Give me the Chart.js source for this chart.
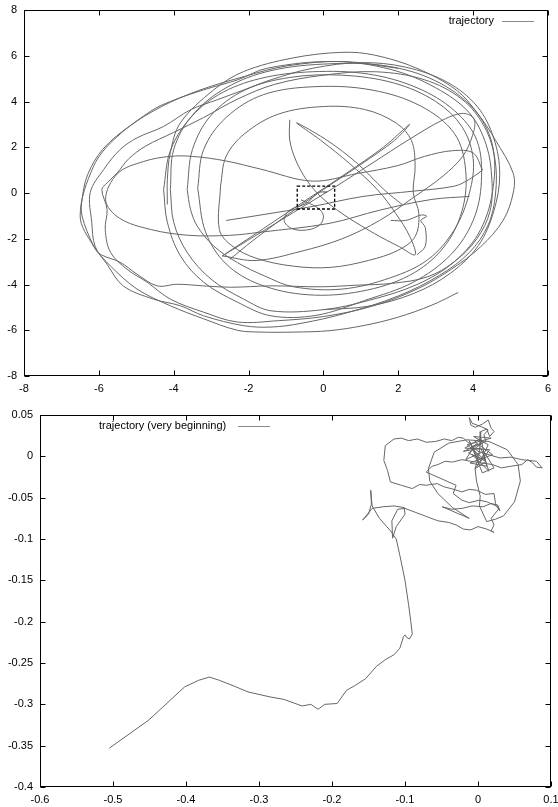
<!DOCTYPE html>
<html>
<head>
<meta charset="utf-8">
<script src="https://cdn.jsdelivr.net/npm/chart.js@4/dist/chart.umd.min.js"></script>
<style>
  body { margin: 0; background: #fff; }
  #topChart { position: absolute; left: 0; top: 0; }
  #bottomChart { position: absolute; left: 0; top: 400px; }
</style>
</head>
<body>
<canvas id="topChart" width="558" height="400"></canvas>
<canvas id="bottomChart" width="558" height="407"></canvas>
<script>
// ---- top panel: whole trajectory, pieces as [x, y]
const startLoop = [[0,0],[0.1,0.05],[-0.15,0.0],[-0.45,-0.45],[-0.9,-0.75],[-1.05,-1.2],[-0.85,-1.55],[-0.45,-1.62],[-0.1,-1.4],[0.0,-1.0],[-0.15,-0.65],[-0.6,-0.3]]
const spindleAE = [[-0.9,3.2],[-0.9,2.32],[-0.74,1.44],[-0.45,0.57],[-0.07,-0.16],[0.5,-0.9],[1.36,-1.77],[2.03,-2.35],[2.45,-2.7],[2.31,-1.91],[1.93,-0.89],[1.45,0.13],[0.69,1.3],[-0.07,2.3],[-0.72,3.07],[0.1,2.3],[0.9,1.3],[1.65,0.1],[2.1,-0.5]]
const spindleC = [[-2.7,-2.75],[-1.6,-1.55],[-0.5,-0.35],[0.6,0.85],[1.6,2.0],[2.3,3.0],[1.9,2.3],[1.0,1.25],[0.0,0.15],[-1.0,-1.0],[-1.9,-2.1],[-2.5,-2.9]]
const tiltedLoop = [[-2.7,-2.75],[-1.8,-1.85],[-0.8,-0.85],[0.3,0.25],[1.3,1.3],[2.3,2.35],[3.2,3.2],[3.75,3.48],[4.03,3.2],[3.98,2.5],[3.72,1.6],[3.2,0.75],[2.4,-0.2],[1.5,-1.2],[0.5,-2.0],[-0.6,-2.55],[-1.8,-2.95],[-2.7,-2.75]]
const thinLoop = [[4.25,1.0],[4.0,1.75],[3.45,1.85],[2.7,1.6],[1.99,1.2],[0.9,0.85],[-0.3,0.52],[-1.67,1.04],[-2.6,1.4],[-3.5,1.6],[-4.1,1.6],[-4.8,1.38],[-5.5,0.85],[-5.82,-0.3],[-5.45,-1.1],[-4.6,-1.6],[-3.6,-1.85],[-2.5,-1.85],[-1.67,-1.71],[0.15,-1.33],[1.53,-0.74],[2.9,-0.28],[3.9,-0.15]]
const thinReturn = [[4.25,1.0],[3.9,0.6],[3.5,0.3],[2.4,0.08],[1.06,-0.15],[-0.3,-0.59],[-1.67,-0.96],[-2.6,-1.2]]
const hook = [[1.8,-1.2],[2.2,-1.2],[2.62,-0.96],[2.76,-1.02],[2.6,-1.2],[2.72,-1.5],[2.72,-2.33],[2.5,-2.7]]
const innerLoop = [[-2.75,0.3],[-2.6,1.6],[-2.1,2.6],[-1.2,3.45],[0,3.78],[1.1,3.65],[1.95,3.05],[2.35,2.3],[2.45,1.2],[2.4,0.0],[2.55,-0.9],[2.45,-1.9],[2.0,-2.5],[1.2,-2.95],[0.2,-3.25],[-0.8,-3.2],[-1.8,-2.85],[-2.45,-2.3],[-2.78,-1.6],[-2.75,0.3]]
const ring1 = [[-4.27,0.15],[-4.1,1.8],[-3.6,3.2],[-2.8,4.3],[-1.7,5.0],[-0.3,5.3],[1.2,5.2],[2.5,4.6],[3.5,3.6],[4.1,2.3],[4.22,0.5],[4.0,-1.2],[3.4,-2.7],[2.4,-3.9],[1.1,-4.7],[-0.2,-5.35],[-1.4,-5.37],[-2.3,-4.77],[-3.2,-3.9],[-3.82,-2.75],[-4.17,-1.28],[-4.27,0.15]]
const ring2 = [[-4.09,0.15],[-4.0,1.9],[-3.5,3.4],[-2.6,4.6],[-1.4,5.35],[0.2,5.65],[1.7,5.55],[3.0,4.9],[4.0,3.7],[4.5,2.2],[4.54,0.3],[4.2,-1.6],[3.5,-3.0],[2.5,-4.0],[1.2,-4.7],[0,-5.1],[-1.4,-5.15],[-2.13,-4.64],[-3.0,-3.77],[-3.64,-2.6],[-4.0,-1.28],[-4.09,0.15]]
const ring3 = [[-3.64,0.15],[-3.5,1.9],[-3.0,3.4],[-2.1,4.5],[-0.9,5.05],[0.5,5.15],[1.9,4.8],[3.0,4.0],[3.7,2.9],[4.0,1.5],[3.9,0],[3.5,-1.6],[2.8,-2.9],[1.8,-3.7],[0.5,-4.2],[-0.8,-4.1],[-1.58,-3.62],[-2.3,-3.04],[-2.93,-2.32],[-3.37,-1.45],[-3.55,-0.72],[-3.64,0.15]]
const ring4 = [[-3.36,0.2],[-3.2,1.9],[-2.6,3.3],[-1.6,4.3],[-0.2,4.65],[1.3,4.5],[2.6,3.8],[3.5,2.6],[3.8,1.0],[3.7,-0.8],[3.2,-2.4],[2.3,-3.6],[1.0,-4.3],[-0.4,-4.45],[-1.7,-4.0],[-2.6,-3.1],[-3.15,-1.7],[-3.36,0.2]]
const outerRings = [[-4.17,-0.5],[-4.17,0.59],[-4.09,1.77],[-3.82,3.07],[-2.93,4.51],[-2.13,5.31],[-0.83,5.9],[0.5,6.15],[1.36,6.03],[2.5,5.45],[3.55,4.5],[4.12,3.48],[4.6,2.3],[5.07,0.86],[5.07,0.0],[4.8,-1.2],[4.2,-2.35],[3.42,-3.33],[2.5,-4.2],[1.3,-4.95],[0,-5.4],[-1.2,-5.58],[-2.3,-5.64],[-3.2,-5.21],[-4.09,-4.64],[-4.71,-3.9],[-5.25,-3.33],[-5.69,-2.59],[-5.83,-1.59],[-5.78,-0.72],[-5.92,0.15],[-5.78,0.44],[-5.51,0.88],[-5.2,1.5],[-4.75,2.05],[-4.0,2.65],[-3.2,3.3],[-2.3,4.1],[-1.3,4.75],[0,5.15],[1.4,5.3],[2.7,4.95],[3.7,4.1],[4.3,2.9],[4.58,1.5],[4.6,0],[4.4,-1.4],[3.9,-2.6],[3.1,-3.6],[2.0,-4.5],[0.6,-5.25],[-0.6,-5.7],[-1.4,-5.86],[-2.13,-5.8],[-3.2,-5.37],[-3.82,-4.93],[-4.54,-4.64],[-5.35,-4.06],[-5.78,-3.12],[-6.1,-2.33],[-6.19,-1.28],[-6.23,0.02],[-5.87,1.03],[-5.43,1.9],[-4.98,2.41],[-4.27,2.91],[-3.55,3.64],[-2.83,4.08],[-2.12,4.51],[-1.4,4.95],[-0.3,5.45],[1.0,5.7],[2.2,5.5],[3.3,4.85],[4.1,3.8],[4.55,2.4],[4.71,0.8],[4.55,-0.8],[4.14,-2.3],[3.4,-3.5],[2.4,-4.4],[1.2,-4.95],[0,-5.1]]
const lastLoops = [[2.0,5.45],[0.5,5.75],[-1.0,5.55],[-2.1,5.1],[-3.3,4.5],[-4.3,3.8],[-5.2,2.9],[-5.9,1.9],[-6.3,0.8],[-6.45,-0.3],[-6.45,-1.0],[-6.14,-2.32],[-5.96,-2.68],[-5.43,-3.03],[-4.98,-3.55],[-4.44,-4.06],[-3.91,-3.99],[-3.2,-4.06],[-2.48,-4.12],[-1.4,-4.06],[-0.07,-4.1],[0.88,-4.03],[1.84,-3.95],[2.79,-3.66],[3.5,-3.0],[4.1,-2.0],[4.45,-0.8],[4.5,0.6],[4.35,2.1],[3.9,3.5],[3.0,4.6],[1.8,5.4],[0.3,5.75],[-1.49,5.46],[-2.29,4.95],[-3.2,4.51],[-4.09,4.0],[-4.62,3.57],[-5.6,2.33],[-6.14,1.17],[-6.5,-1.0],[-6.14,-2.32],[-5.69,-3.19],[-4.98,-4.2],[-4.09,-4.93],[-3.2,-5.5],[-2.3,-6.0],[-1.67,-6.08],[-0.76,-6.08],[0.15,-6.02],[1.06,-5.8],[1.99,-5.43],[2.9,-4.9],[3.6,-4.35]]
const topPieces = [startLoop, spindleAE, spindleC, tiltedLoop, thinLoop, thinReturn, hook, innerLoop, ring1, ring2, ring3, ring4, outerRings, lastLoops]
const zoomBox = [[-0.7,-0.7],[0.3,0.3]]

// ---- bottom panel: very beginning
const earlyPath = [[0,0],[-0.009,0.012],[0.006,0.016],[-0.013,0.004],[0.011,-0.006],[-0.004,-0.015],[0.016,0.008],[-0.018,0.01],[0.004,0.022],[0.012,-0.012],[-0.011,-0.008],[0.02,0.002],[-0.002,0.016],[-0.017,-0.004],[0.008,0.006],[0.022,-0.014],[0.006,-0.02],[-0.012,0.019],[0.002,-0.008],[0.014,0.014],[-0.006,0.024],[0.018,0.022],[-0.015,0.014],[0.009,-0.004],[-0.008,0.002],[0.015,-0.018],[0.004,0.01],[-0.02,0.006],[0.011,0.018],
  [0.008,0.026],[0.014,0.032],[0.004,0.036],[-0.008,0.04],[-0.012,0.047],[-0.01,0.038],[-0.004,0.035],[0.006,0.039],[0.014,0.044],[0.018,0.034],[0.022,0.03],[0.016,0.024],[0.012,0.033],[0.004,0.03],
  [0.003,0.015],[0.001,0.0],[-0.004,-0.015],[-0.002,-0.03],[0.003,-0.048],[0.002,-0.06],[0.012,-0.079],[0.024,-0.076],[0.035,-0.072],[0.05,-0.055],[0.058,-0.03],[0.055,-0.01],[0.04,0.008],[0.015,0.018],[-0.015,0.02],[-0.04,0.016],[-0.06,0.005],[-0.068,-0.015],[-0.066,-0.03],[-0.055,-0.045],[-0.035,-0.062],[-0.012,-0.075],
  [-0.049,-0.061],[-0.036,-0.064],[-0.022,-0.063],[-0.008,-0.06],[0.007,-0.061],[0.018,-0.057],[0.027,-0.059],[0.03,-0.066],[0.025,-0.06],[0.012,-0.055],[0.002,-0.053],[-0.012,-0.056],[-0.022,-0.053],[-0.034,-0.045],[-0.03,-0.035],
  [-0.071,-0.019],[-0.063,-0.012],[-0.055,-0.01],[-0.045,-0.006],[-0.035,-0.007],[-0.022,-0.004],[-0.01,-0.006],[0.005,-0.008],[0.02,-0.01],[0.032,-0.014],[0.045,-0.012],[0.06,-0.01],[0.068,-0.004],[0.075,-0.008],[0.08,-0.013],[0.088,-0.014],[0.08,-0.006],[0.06,-0.004],[0.045,-0.001],[0.03,-0.002],[0.015,0.002],[0.0,0.006],
  [-0.02,0.022],[-0.027,0.023],[-0.036,0.019],[-0.046,0.021],[-0.058,0.018],[-0.071,0.017],[-0.083,0.021],[-0.095,0.019],[-0.105,0.022],[-0.115,0.021],[-0.127,0.013],[-0.129,-0.005],[-0.124,-0.017],[-0.12,-0.031],[-0.105,-0.035],[-0.09,-0.039],[-0.08,-0.034],[-0.071,-0.035],[-0.056,-0.033],[-0.046,-0.037],[-0.037,-0.039],[-0.022,-0.043],[-0.012,-0.04],[-0.002,-0.041],[0.01,-0.046],[0.022,-0.045],[0.024,-0.057],[0.029,-0.063],
  [0.018,-0.075],[0.022,-0.083],[0.018,-0.09],[0.022,-0.092],[0.012,-0.088],[0.0,-0.085],[-0.01,-0.089],[-0.02,-0.088],[-0.03,-0.083],[-0.04,-0.08],[-0.055,-0.078],[-0.07,-0.073],[-0.085,-0.068],[-0.1,-0.063],[-0.11,-0.064],[-0.118,-0.078],[-0.117,-0.099],[-0.112,-0.085],[-0.1,-0.07],[-0.101,-0.062],[-0.115,-0.06],[-0.13,-0.061],[-0.145,-0.063],[-0.158,-0.077],[-0.15,-0.07],[-0.146,-0.058],[-0.147,-0.041],[-0.145,-0.06],[-0.135,-0.075],[-0.12,-0.09],[-0.112,-0.1],
  [-0.107,-0.12],[-0.1,-0.15],[-0.095,-0.18],[-0.092,-0.2],[-0.09,-0.215],[-0.094,-0.221],[-0.098,-0.219],[-0.1,-0.216],[-0.102,-0.218],[-0.107,-0.232],[-0.115,-0.24],[-0.127,-0.246],[-0.139,-0.254],[-0.154,-0.269],[-0.168,-0.277],[-0.18,-0.283],[-0.193,-0.299],[-0.21,-0.3],[-0.219,-0.306],[-0.229,-0.3],[-0.241,-0.302],[-0.266,-0.294],[-0.285,-0.291],[-0.315,-0.285],[-0.334,-0.278],[-0.354,-0.271],[-0.368,-0.267],[-0.383,-0.271],[-0.402,-0.279],[-0.451,-0.319],[-0.505,-0.353]]

const lineColor = '#666'
const font = { family: '"Liberation Sans", Arial, sans-serif', size: 11 }
const fmt = v => String(+Number(v).toFixed(3))
const toPts = a => a.map(p => ({ x: p[0], y: p[1] }))

// border, inward ticks, legend and zoom box, gnuplot style
const framePlugin = {
  id: 'frame',
  afterDatasetsDraw(chart, args, opts) {
    const { ctx, chartArea: a, scales } = chart
    const L = Math.round(a.left) + 0.5, R = Math.round(a.right) - 0.5
    const T = Math.round(a.top) + 0.5, B = Math.round(a.bottom) - 0.5
    ctx.save()
    ctx.strokeStyle = '#000'
    ctx.lineWidth = 1
    ctx.strokeRect(L, T, R - L, B - T)
    ctx.beginPath()
    scales.x.ticks.forEach(t => {
      const px = Math.round(scales.x.getPixelForValue(t.value)) + 0.5
      ctx.moveTo(px, B); ctx.lineTo(px, B - opts.tick)
      ctx.moveTo(px, T); ctx.lineTo(px, T + opts.tick)
    })
    scales.y.ticks.forEach(t => {
      const py = Math.round(scales.y.getPixelForValue(t.value)) + 0.5
      ctx.moveTo(L, py); ctx.lineTo(L + opts.tick, py)
      ctx.moveTo(R, py); ctx.lineTo(R - opts.tick, py)
    })
    ctx.stroke()
    if (opts.box) {
      const x1 = scales.x.getPixelForValue(opts.box[0][0]), x2 = scales.x.getPixelForValue(opts.box[1][0])
      const y1 = scales.y.getPixelForValue(opts.box[0][1]), y2 = scales.y.getPixelForValue(opts.box[1][1])
      ctx.setLineDash([3, 2])
      ctx.lineWidth = 1.3
      ctx.strokeRect(x1, y2, x2 - x1, y1 - y2)
      ctx.setLineDash([])
    }
    const lg = opts.legend
    ctx.font = font.size + 'px ' + font.family
    ctx.fillStyle = '#000'
    ctx.textBaseline = 'middle'
    ctx.textAlign = lg.align
    ctx.fillText(lg.text, lg.x, lg.y)
    ctx.strokeStyle = '#888'
    ctx.lineWidth = 1
    ctx.beginPath()
    ctx.moveTo(lg.from, lg.y + 0.5); ctx.lineTo(lg.to, lg.y + 0.5)
    ctx.stroke()
    ctx.restore()
  }
}

function makeChart(id, pieces, cfg) {
  return new Chart(document.getElementById(id), {
    type: 'scatter',
    data: {
      datasets: pieces.map(p => ({
        data: toPts(p),
        showLine: true,
        borderColor: lineColor,
        borderWidth: 1,
        pointRadius: 0,
        tension: cfg.tension,
        fill: false
      }))
    },
    options: {
      responsive: false,
      animation: false,
      layout: { padding: cfg.padding },
      plugins: { legend: { display: false }, tooltip: { enabled: false }, frame: cfg.frame },
      scales: {
        x: {
          type: 'linear', min: cfg.xr[0], max: cfg.xr[1],
          grid: { display: false, drawTicks: false }, border: { display: false },
          ticks: { stepSize: cfg.xr[2], autoSkip: false, maxRotation: 0, padding: 6, color: '#000', font, callback: fmt },
          afterFit(s) { s.height = cfg.xh; s.paddingLeft = 0; s.paddingRight = 0 }
        },
        y: {
          type: 'linear', min: cfg.yr[0], max: cfg.yr[1],
          grid: { display: false, drawTicks: false }, border: { display: false },
          ticks: { stepSize: cfg.yr[2], autoSkip: false, padding: 7, color: '#000', font, callback: fmt },
          afterFit(s) { s.width = cfg.yw; s.paddingTop = 0; s.paddingBottom = 0 }
        }
      }
    },
    plugins: [framePlugin]
  })
}

makeChart('topChart', topPieces, {
  tension: 0.35,
  padding: { left: 0, right: 10, top: 10, bottom: 0 },
  xr: [-8, 6, 2], yr: [-8, 8, 2], xh: 24, yw: 24,
  frame: { tick: 5, box: zoomBox, legend: { text: 'trajectory', align: 'right', x: 494, y: 21, from: 502, to: 534 } }
})

makeChart('bottomChart', [earlyPath], {
  tension: 0,
  padding: { left: 0, right: 7, top: 15, bottom: 0 },
  xr: [-0.6, 0.1, 0.1], yr: [-0.4, 0.05, 0.05], xh: 20, yw: 40,
  frame: { tick: 5, legend: { text: 'trajectory (very beginning)', align: 'left', x: 99, y: 26, from: 238, to: 270 } }
})
</script>
</body>
</html>
